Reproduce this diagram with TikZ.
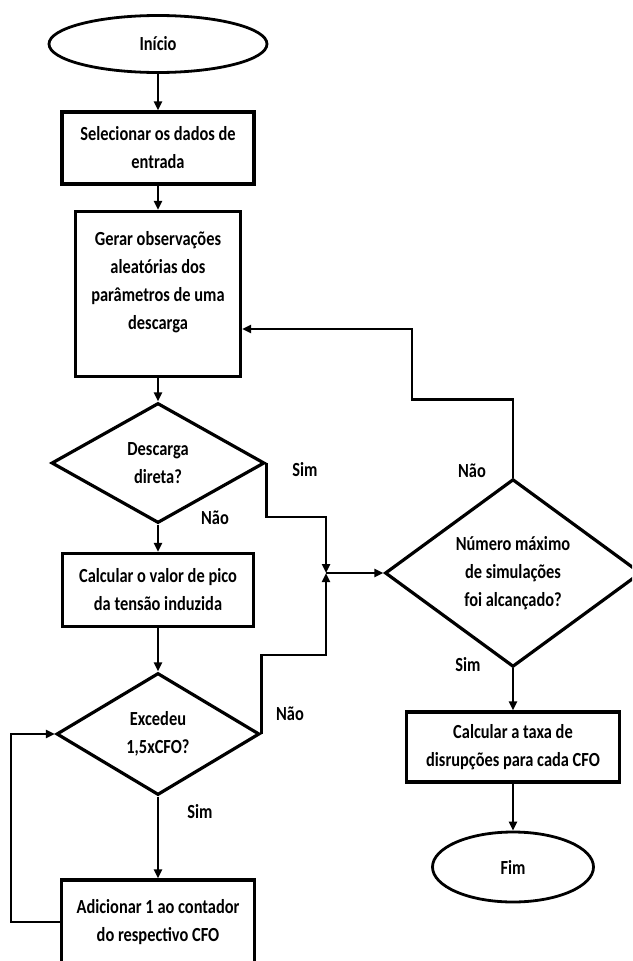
\documentclass[tikz,border=0pt]{standalone}
\usepackage{fontspec}
\setmainfont{Carlito}[FakeStretch=0.82]
\usepackage{tikz}
\usetikzlibrary{arrows.meta,shapes.geometric}

\begin{document}
\begin{tikzpicture}[
        x=1pt, y=-1pt,
        >=Stealth,
        every node/.style={font=\fontsize{20}{28}\selectfont\bfseries},
        box/.style={
            draw,
            line width=3.2pt,
            align=center,
            inner sep=0pt
        },
        term/.style={
            ellipse,
            draw,
            line width=2.8pt,
            inner sep=0pt
        },
        decision/.style={
            diamond,
            draw,
            line width=3.2pt,
            align=center,
            inner sep=0pt
        },
        flow/.style={-{Triangle[length=9pt,width=8pt]}, line width=2.8pt}
    ]
        \useasboundingbox (0,0) rectangle (632,961);
        \clip (0,0) rectangle (632,961);

        \node[term, minimum width=218pt, minimum height=57pt] (ini) at (158,44) {Início};
        \node[box, minimum width=192pt, minimum height=72pt] (s1) at (158,148) {Selecionar os dados de\\entrada};
        \node[box, minimum width=165pt, minimum height=165pt] (s2) at (158,294)
            {Gerar observações\\aleatórias dos\\parâmetros de uma\\descarga\\~};
        \node[decision, minimum width=213pt, minimum height=120pt] (d1) at (158,463) {Descarga\\direta?};
        \node[box, minimum width=191pt, minimum height=73pt] (s3) at (158,590) {Calcular o valor de pico\\da tensão induzida};
        \node[decision, minimum width=203pt, minimum height=122pt] (d2) at (158,734) {Excedeu\\1,5xCFO?};
        \node[box, minimum width=193pt, minimum height=84pt] (s4) at (158,922) {Adicionar 1 ao contador\\do respectivo CFO};

        \node[decision, minimum width=256pt, minimum height=178pt] (d3) at (513,573)
            {Número máximo\\de simulações\\foi alcançado?};
        \node[box, minimum width=213pt, minimum height=70pt] (s5) at (513,747) {Calcular a taxa de\\disrupções para cada CFO};
        \node[term, minimum width=161pt, minimum height=70pt] (fim) at (513,867) {Fim};

        \coordinate (j) at (326,573);

        \draw[flow] (ini.south) -- (s1.north);
        \draw[flow] (s1.south) -- (s2.north);
        \draw[flow] (s2.south) -- (d1.north);
        \draw[flow] (d1.south) -- (s3.north);
        \draw[flow] (s3.south) -- (d2.north);
        \draw[flow] (d2.south) -- (s4.north);
        \draw[flow] (s4.west) -- ++(-49,0) |- (d2.west);
        \draw[flow] (d1.east) -- ++(0,54) -| (j);
        \draw[flow] (d2.east) -- ++(0,-79) -| (j);
        \draw[flow] (j) -- (d3.west);
        \draw[flow] (d3.north) -- ++(0,-78) -| (412,329) -- ([yshift=-35pt]s2.east);
        \draw[flow] (d3.south) -- (s5.north);
        \draw[flow] (s5.south) -- (fim.north);

        \node (l1) at (305,470) {Sim};
        \node (l2) at (215,518) {Não};
        \node (l3) at (290,714) {Não};
        \node (l4) at (200,812) {Sim};
        \node (l5) at (472,471) {Não};
        \node (l6) at (468,665) {Sim};
    \end{tikzpicture}
\end{document}
